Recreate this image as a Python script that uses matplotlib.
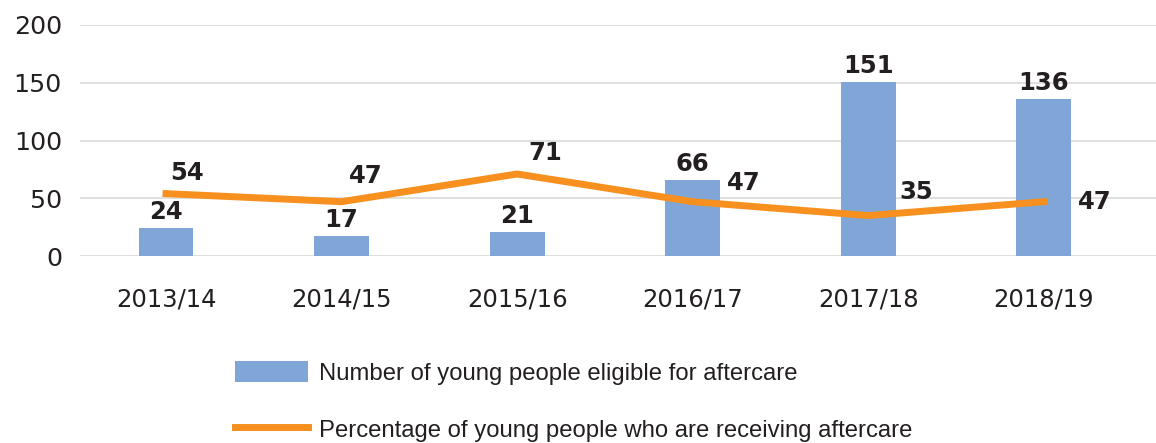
import matplotlib
matplotlib.use("Agg")
import matplotlib.pyplot as plt
from matplotlib import font_manager

categories = ["2013/14", "2014/15", "2015/16", "2016/17", "2017/18", "2018/19"]
eligible = [24, 17, 21, 66, 151, 136]
receiving_pct = [54, 47, 71, 47, 35, 47]
yticks = [0, 50, 100, 150, 200]
bar_label_name = "Number of young people eligible for aftercare"
line_label_name = "Percentage of young people who are receiving aftercare"

BAR_C = "#7FA6D6"
LINE_C = "#F7901E"
TXT_C = "#231F20"
GRID_C = "#D9D9D9"

names = {f.name for f in font_manager.fontManager.ttflist}
legend_font = "Liberation Sans Narrow" if "Liberation Sans Narrow" in names else "Liberation Sans"

W, H = 1156, 443
fig = plt.figure(figsize=(W / 100, H / 100), dpi=100)
ax = fig.add_axes([80 / W, 1 - 256 / H, 1 - 80 / W, 231 / H])

x = list(range(len(categories)))
bars = ax.bar(x, eligible, width=0.313, color=BAR_C, zorder=2,
              label=bar_label_name)
line, = ax.plot(x, receiving_pct, color=LINE_C, lw=5, zorder=3,
                solid_joinstyle="miter", label=line_label_name)

ax.set_xlim(-0.49, 5.64)
ax.set_ylim(0, 200)
ax.set_yticks(yticks)
ax.set_xticks(x)
ax.set_xticklabels(categories)
ax.yaxis.grid(True, color=GRID_C, lw=1.2, zorder=0)
ax.set_axisbelow(True)
for s in ax.spines.values():
    s.set_visible(False)
ax.tick_params(axis="both", length=0, labelsize=17.5, colors=TXT_C)
ax.tick_params(axis="y", labelsize=18.2, pad=13)
ax.tick_params(axis="x", pad=23)
for t in ax.get_xticklabels() + ax.get_yticklabels():
    t.set_fontfamily("DejaVu Sans")

# bar value labels
for xi, v in zip(x, eligible):
    ax.annotate(str(v), (xi, v), xytext=(0, 4), textcoords="offset pixels",
                ha="center", va="bottom", fontsize=17.5, fontweight="bold",
                color=TXT_C, zorder=4)

# line value labels (offsets in pixels: dx, dy, ha, va)
offsets = [(4, 9, "left", "bottom"), (7, 14, "left", "bottom"),
           (11, 9, "left", "bottom"), (34, 7, "left", "bottom"),
           (31, 12, "left", "bottom"), (34, 0, "left", "center")]
for xi, v, (dx, dy, ha, va) in zip(x, receiving_pct, offsets):
    ax.annotate(str(v), (xi, v), xytext=(dx, dy), textcoords="offset pixels",
                ha=ha, va=va, fontsize=17.5, fontweight="bold",
                color=TXT_C, zorder=4)

leg = fig.legend(handles=[bars, line], loc="upper left",
                 bbox_to_anchor=(235 / W, 1 - 361 / H),
                 frameon=False, borderpad=0, borderaxespad=0,
                 handlelength=3.05, handleheight=1.0, handletextpad=0.45,
                 labelspacing=1.38,
                 prop={"family": legend_font, "size": 17.2})
for t in leg.get_texts():
    t.set_color(TXT_C)

fig.savefig("out.png", dpi=100)
